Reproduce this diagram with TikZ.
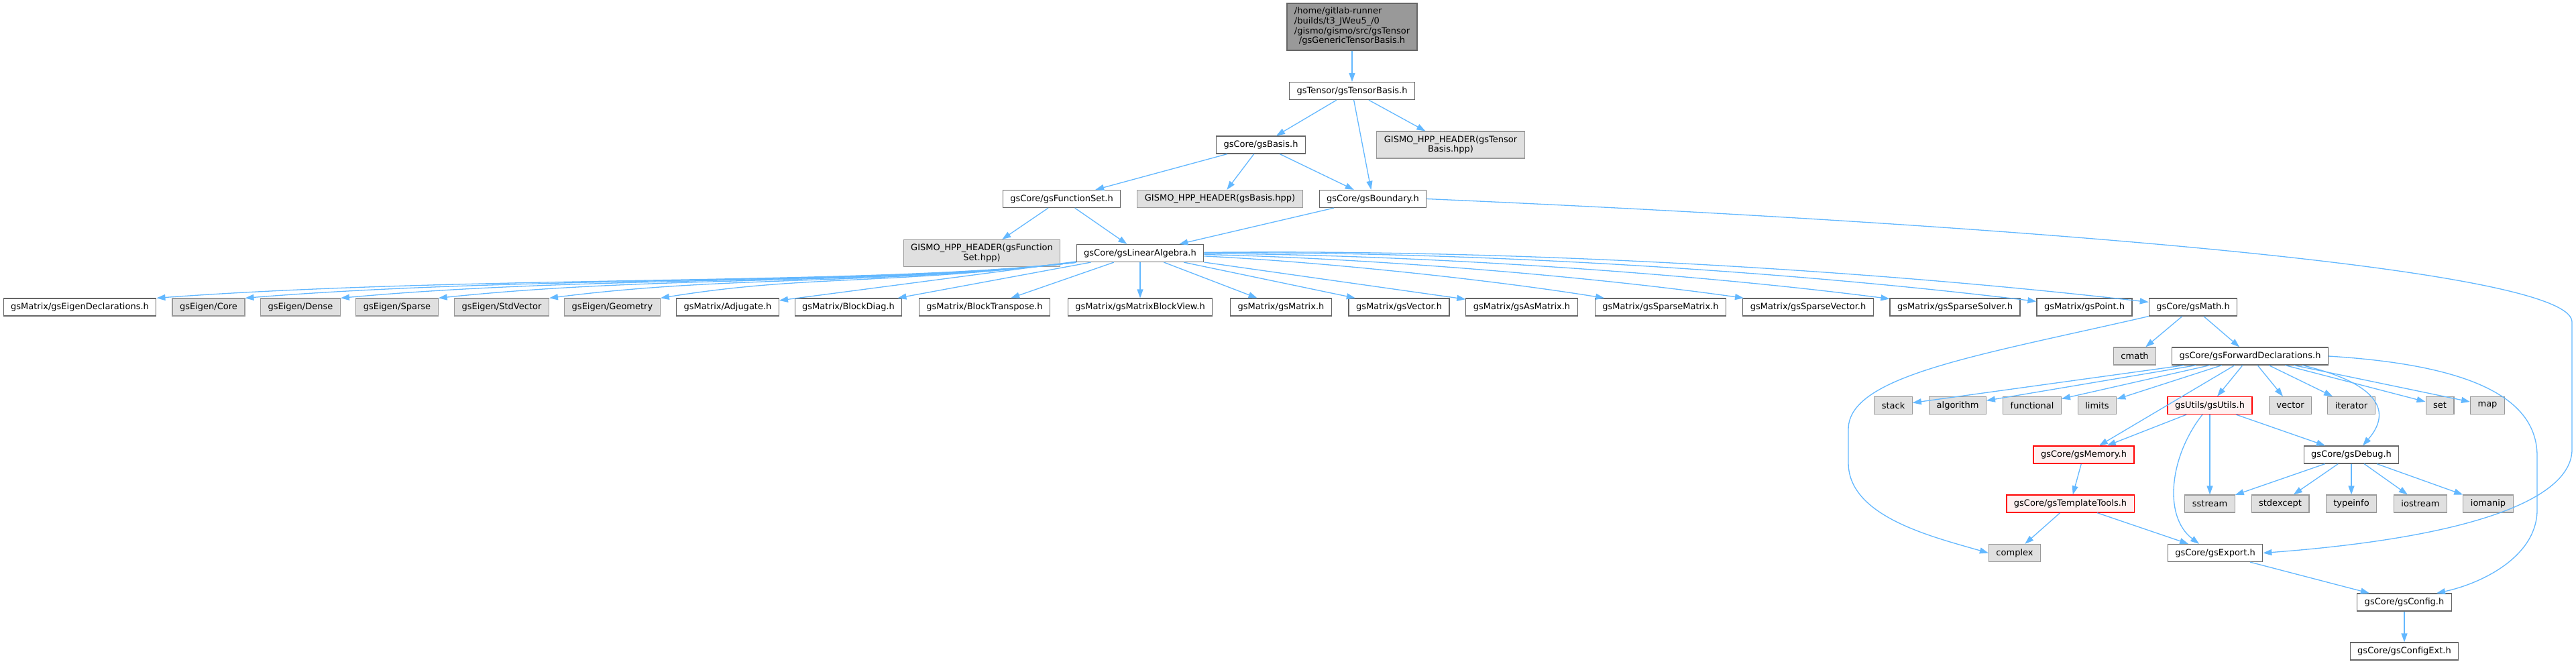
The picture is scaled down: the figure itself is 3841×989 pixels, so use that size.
\documentclass[tikz,border=0pt]{standalone}
\usepackage{fontspec}
\setmainfont{DejaVu Sans}
\usepackage{xcolor}
\usepackage{tikz}
\usetikzlibrary{arrows.meta}
\definecolor{edge}{HTML}{63B8FF}
\definecolor{frame}{HTML}{666666}
\definecolor{rootfill}{HTML}{999999}
\definecolor{extfill}{HTML}{E0E0E0}
\definecolor{extframe}{HTML}{999999}
\definecolor{warnfill}{HTML}{FFF0F0}
\definecolor{warnframe}{HTML}{FF0000}

\begin{document}
\begin{tikzpicture}[x=1pt, y=-1pt,
    file/.style={draw=frame, fill=white, line width=1.2pt, inner xsep=11pt, inner ysep=2pt,
                 minimum height=26pt, align=center, font=\fontsize{13}{14.7}\selectfont},
    sys/.style={file, draw=extframe, fill=extfill},
    trunc/.style={file, draw=warnframe, fill=warnfill},
    dep/.style={draw=edge, line width=1.3pt, -{Triangle[length=13pt,width=9pt]}}]
  \fill[white] (0,0) rectangle (3841,989);
  \useasboundingbox (0,0) rectangle (3841,989);

  \node[file, fill=rootfill, minimum height=70pt] (root) at (2016,40) {%
    \begin{tabular}{@{}l@{}}/home/gitlab-runner\\/builds/t3\_JWeu5\_/0\\/gismo/gismo/src/gsTensor\\
    \multicolumn{1}{@{}c@{}}{/gsGenericTensorBasis.h}\end{tabular}};
  \node[file] (TB) at (2016,135.5) {gsTensor/gsTensorBasis.h};
  \node[file] (Basis) at (1880,216) {gsCore/gsBasis.h};
  \node[sys, minimum height=40pt] (hppTB) at (2163,216) {GISMO\_HPP\_HEADER(gsTensor\\Basis.hpp)};
  \node[file] (FS) at (1583,296.5) {gsCore/gsFunctionSet.h};
  \node[sys] (hppB) at (1819,296.5) {GISMO\_HPP\_HEADER(gsBasis.hpp)};
  \node[file] (Bound) at (2047,296.5) {gsCore/gsBoundary.h};
  \node[sys, minimum height=40pt] (hppFS) at (1464,377.5) {GISMO\_HPP\_HEADER(gsFunction\\Set.hpp)};
  \node[file] (LA) at (1700,377.5) {gsCore/gsLinearAlgebra.h};

  \node[file] (eigdecl) at (119,458) {gsMatrix/gsEigenDeclarations.h};
  \node[sys] (core) at (311,458) {gsEigen/Core};
  \node[sys] (dense) at (448,458) {gsEigen/Dense};
  \node[sys] (sparse) at (592,458) {gsEigen/Sparse};
  \node[sys] (stdvec) at (748,458) {gsEigen/StdVector};
  \node[sys] (geom) at (913,458) {gsEigen/Geometry};
  \node[file] (adj) at (1085,458) {gsMatrix/Adjugate.h};
  \node[file] (bdiag) at (1265,458) {gsMatrix/BlockDiag.h};
  \node[file] (btrans) at (1468,458) {gsMatrix/BlockTranspose.h};
  \node[file] (bview) at (1700,458) {gsMatrix/gsMatrixBlockView.h};
  \node[file] (mat) at (1910,458) {gsMatrix/gsMatrix.h};
  \node[file] (vec) at (2086,458) {gsMatrix/gsVector.h};
  \node[file] (asmat) at (2269,458) {gsMatrix/gsAsMatrix.h};
  \node[file] (spmat) at (2476,458) {gsMatrix/gsSparseMatrix.h};
  \node[file] (spvec) at (2696,458) {gsMatrix/gsSparseVector.h};
  \node[file] (spsol) at (2915,458) {gsMatrix/gsSparseSolver.h};
  \node[file] (point) at (3108,458) {gsMatrix/gsPoint.h};
  \node[file] (math) at (3270,458) {gsCore/gsMath.h};

  \node[sys] (cmath) at (3183,531) {cmath};
  \node[file] (FD) at (3355,531) {gsCore/gsForwardDeclarations.h};

  \node[sys] (stack) at (2823,604.5) {stack};
  \node[sys] (algorithm) at (2919,604.5) {algorithm};
  \node[sys] (functional) at (3030,604.5) {functional};
  \node[sys] (limits) at (3127,604.5) {limits};
  \node[trunc] (utils) at (3295,604.5) {gsUtils/gsUtils.h};
  \node[sys] (vector) at (3415,604.5) {vector};
  \node[sys] (iterator) at (3506,604.5) {iterator};
  \node[sys] (set) at (3638,604.5) {set};
  \node[sys] (map) at (3709,604.5) {map};

  \node[trunc] (mem) at (3107,678) {gsCore/gsMemory.h};
  \node[file] (debug) at (3506,678) {gsCore/gsDebug.h};

  \node[trunc] (tt) at (3087,751) {gsCore/gsTemplateTools.h};
  \node[sys] (sstream) at (3295,751) {sstream};
  \node[sys] (stdexcept) at (3400,751) {stdexcept};
  \node[sys] (typeinfo) at (3506,751) {typeinfo};
  \node[sys] (iostream) at (3609,751) {iostream};
  \node[sys] (iomanip) at (3710,751) {iomanip};

  \node[sys] (complex) at (3004,824.5) {complex};
  \node[file] (export) at (3303,824.5) {gsCore/gsExport.h};
  \node[file] (config) at (3585,898) {gsCore/gsConfig.h};
  \node[file] (configext) at (3585,971) {gsCore/gsConfigExt.h};

  \draw[dep] (root) -- (TB);
  \foreach \t in {Basis,Bound,hppTB} \draw[dep] (TB) -- (\t);
  \foreach \t in {FS,hppB,Bound} \draw[dep] (Basis) -- (\t);
  \foreach \t in {hppFS,LA} \draw[dep] (FS) -- (\t);
  \draw[dep] (Bound) -- (LA);
  \draw[dep] (Bound.east) .. controls (3000,335) and (3835,400) .. (3835,480) -- (3835,670)
    .. controls (3835,740) and (3700,800) .. (export.east);

  \foreach \t/\k in {eigdecl/480,core/435,dense/385,sparse/334,stdvec/277,geom/218}
    \draw[dep] (LA.south west) .. controls +(-300,35) and +(\k,-35) .. (\t.north east);
  \foreach \t in {adj,bdiag,btrans,bview,mat,vec,asmat}
    \draw[dep] (LA) -- (\t);
  \foreach \t/\dx/\h in {spmat/259/15,spvec/332/20,spsol/405/25,point/469/30,math/523/33}
    \draw[dep] (LA) .. controls +(\dx,27-\h) and +(-\dx,-27-\h) .. (\t);

  \foreach \t in {cmath,FD} \draw[dep] (math) -- (\t);
  \draw[dep] (math.south west) .. controls (2950,530) and (2756,560) .. (2756,640) -- (2756,690)
    .. controls (2756,770) and (2880,800) .. (complex.west);

  \foreach \t in {stack,algorithm,functional,limits,mem,utils,vector,iterator,set,map}
    \draw[dep] (FD) -- (\t);
  \draw[dep] ([xshift=78]FD.south) .. controls (3540,570) and (3570,610) .. ([xshift=17]debug.north);
  \draw[dep] (FD.east) .. controls (3700,545) and (3783,600) .. (3783,680) -- (3783,760)
    .. controls (3783,830) and (3700,870) .. ([xshift=48]config.north);

  \foreach \t in {mem,sstream,debug} \draw[dep] (utils) -- (\t);
  \draw[dep] ([xshift=-11]utils.south) .. controls (3235,680) and (3225,770) .. ([xshift=-24]export.north);
  \draw[dep] (mem) -- (tt);
  \foreach \t in {complex,export} \draw[dep] (tt) -- (\t);
  \foreach \t in {sstream,stdexcept,typeinfo,iostream,iomanip} \draw[dep] (debug) -- (\t);
  \draw[dep] (export) -- (config);
  \draw[dep] (config) -- (configext);
\end{tikzpicture}
\end{document}
